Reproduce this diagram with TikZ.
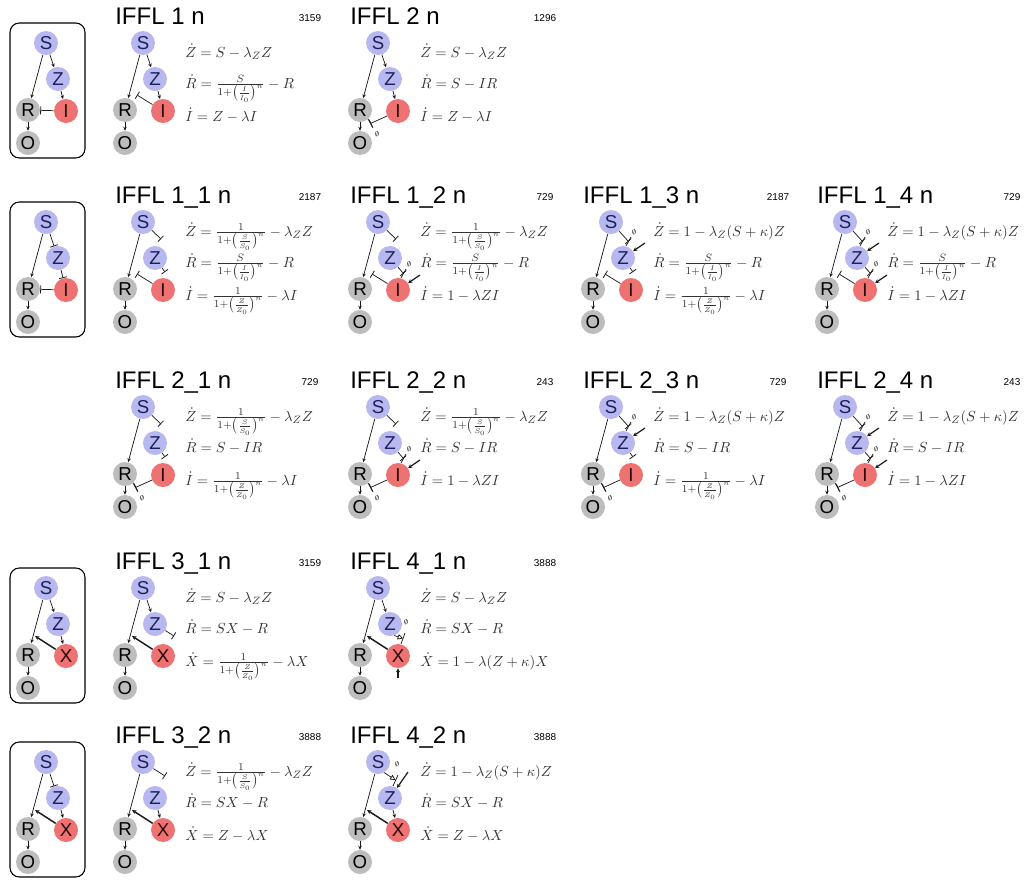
\documentclass[tikz,border=0pt]{standalone}
\usepackage{fontspec}
\setmainfont{Liberation Sans}
\usetikzlibrary{arrows.meta,calc}

\definecolor{sigfill}{HTML}{B8B8F0}
\definecolor{sigtext}{HTML}{1E1E5C}
\definecolor{repfill}{HTML}{BDBDBD}
\definecolor{modfill}{HTML}{EE7272}
\definecolor{modtext}{HTML}{2A0808}
\definecolor{lncol}{HTML}{1A1A1A}
\definecolor{eqcol}{HTML}{333333}

\tikzset{
  sp/.style={circle, minimum size=18pt, inner sep=0pt, font=\fontsize{14}{14}\selectfont},
  sig/.style={sp, fill=sigfill, text=sigtext},
  rsp/.style={sp, fill=repfill, text=black},
  msp/.style={sp, fill=modfill, text=modtext},
  ttl/.style={anchor=base west, inner sep=0pt, font=\fontsize{18}{18}\selectfont},
  cnt/.style={anchor=base, inner sep=0pt, font=\fontsize{7.5}{8}\selectfont},
  eqn/.style={anchor=base west, inner sep=0pt, text=eqcol, font=\fontsize{11}{12}\selectfont},
  nul/.style={inner sep=0pt, font=\fontsize{5.5}{5.5}\selectfont},
  act/.style={draw=lncol, line width=0.55pt, -{Stealth[length=3pt,width=2.6pt]}},
  inh/.style={draw=lncol, line width=0.55pt, -{Bar[width=6pt,line width=0.6pt]}},
  thk/.style={draw=lncol, line width=1.1pt, -{Stealth[length=3.4pt,width=3.2pt]}},
  prod/.style={draw=lncol, line width=0.9pt, -{Stealth[length=3pt,width=3pt]}},
  degl/.style={draw=lncol, line width=0.55pt},
  cat/.style={draw=lncol, line width=0.55pt, -{Triangle[open,length=4pt,width=4pt]}},
  frame/.style={draw=black, line width=0.8pt, rounded corners=7pt},
}

% species of one network; #1,#2 = origin (title left, row of S), #3 = third species
\newcommand{\species}[3]{%
  \node[sig] (S) at ({#1+28},{#2}) {S};
  \node[sig] (Z) at ({#1+40},{#2+36}) {Z};
  \node[rsp] (R) at ({#1+10},{#2+67}) {R};
  \node[msp] (M) at ({#1+48},{#2+68}) {#3};
  \node[rsp] (O) at ({#1+10},{#2+100}) {O};
  \draw[act] (S) -- (R);
  \draw[act] (R) -- (O);
}
% title, count and the three rate equations
\newcommand{\header}[7]{%
  \node[ttl] (T) at ({#1},{#2-19}) {#3};
  \node[cnt] (N) at ({#1+195},{#2-22}) {#4};
  \node[eqn] (E1) at ({#1+70},{#2+14}) {$#5$};
  \node[eqn] (E2) at ({#1+70},{#2+45}) {$#6$};
  \node[eqn] (E3) at ({#1+70},{#2+78}) {$#7$};
}
% rate equations
\newcommand{\eZa}{\dot Z = S-\lambda_Z Z}
\newcommand{\eZh}{\dot Z = \frac{1}{1+\left(\frac{S}{S_0}\right)^n}-\lambda_Z Z}
\newcommand{\eZd}{\dot Z = 1-\lambda_Z(S+\kappa)Z}
\newcommand{\eRh}{\dot R = \frac{S}{1+\left(\frac{I}{I_0}\right)^n}-R}
\newcommand{\eRd}{\dot R = S-IR}
\newcommand{\eRx}{\dot R = SX-R}
\newcommand{\eIa}{\dot I = Z-\lambda I}
\newcommand{\eIh}{\dot I = \frac{1}{1+\left(\frac{Z}{Z_0}\right)^n}-\lambda I}
\newcommand{\eId}{\dot I = 1-\lambda ZI}
\newcommand{\eXh}{\dot X = \frac{1}{1+\left(\frac{Z}{Z_0}\right)^n}-\lambda X}
\newcommand{\eXd}{\dot X = 1-\lambda(Z+\kappa)X}
\newcommand{\eXa}{\dot X = Z-\lambda X}
% interactions
\newcommand{\sza}{\draw[act] (S) -- (Z);}
\newcommand{\szi}{\coordinate (SZe) at ($(Z)+(6,-19)$); \draw[inh] (S) -- (SZe);}
\newcommand{\zma}{\draw[act] (Z) -- (M);}
\newcommand{\zmi}{\coordinate (ZMe) at ($(M)+(2,-18)$); \draw[inh] (Z) -- (ZMe);}
\newcommand{\mri}{\coordinate (MRe) at ($(R)+(12,-15)$); \draw[inh] (M) -- (MRe);}
\newcommand{\xra}{\coordinate (XRe) at ($(R)+(7,-19)$); \draw[thk] (M) -- (XRe);}
% degradation of #1 catalysed by #2 (edge style #3), plus constant production
\newcommand{\degUR}[3]{%
  \coordinate (#1a) at ($(#1)+(3,-12)$);
  \coordinate (#1b) at ($(#1)+(8,-21)$);
  \coordinate (#1c) at ($(#1)+(5.5,-16.5)$);
  \coordinate (#1p) at ($(#1)+(22,-15)$);
  \node[nul] (#1n) at ($(#1)+(11,-26)$) {$\emptyset$};
  \draw[degl] (#1a) -- (#1b);
  \draw[#3] (#2) -- (#1c);
  \draw[prod] (#1p) -- (#1);
}
% degradation of R catalysed by I
\newcommand{\degR}{%
  \coordinate (Ra) at ($(R)+(8,9)$);
  \coordinate (Rb) at ($(R)+(13,18)$);
  \coordinate (Rc) at ($(R)+(10.5,13.5)$);
  \node[nul] (Rn) at ($(R)+(17,24)$) {$\emptyset$};
  \draw[degl] (Ra) -- (Rb);
  \draw[inh] (M) -- (Rc);
}

\begin{document}
\begin{tikzpicture}[x=0.75pt, y=-0.75pt]
\useasboundingbox (0,0) rectangle (1026,886);

% ---------- row 1 ----------
\begin{scope}[name prefix=b1-]
  \draw[frame] (10,23) rectangle (85,158);
  \species{18}{43}{I}
  \sza \zma \draw[inh] (M) -- (R);
\end{scope}
\begin{scope}[name prefix=p1-]
  \header{115}{43}{IFFL 1 n}{3159}{\eZa}{\eRh}{\eIa}
  \species{115}{43}{I}
  \sza \zma \mri
\end{scope}
\begin{scope}[name prefix=p2-]
  \header{350}{43}{IFFL 2 n}{1296}{\eZa}{\eRd}{\eIa}
  \species{350}{43}{I}
  \sza \zma \degR
\end{scope}

% ---------- row 2 ----------
\begin{scope}[name prefix=b2-]
  \draw[frame] (10,202) rectangle (85,337);
  \species{18}{222}{I}
  \draw[inh] (S) -- (Z); \draw[inh] (Z) -- (M); \draw[inh] (M) -- (R);
\end{scope}
\begin{scope}[name prefix=p3-]
  \header{115}{222}{IFFL 1\_1 n}{2187}{\eZh}{\eRh}{\eIh}
  \species{115}{222}{I}
  \szi \zmi \mri
\end{scope}
\begin{scope}[name prefix=p4-]
  \header{350}{222}{IFFL 1\_2 n}{729}{\eZh}{\eRh}{\eId}
  \species{350}{222}{I}
  \szi \degUR{M}{Z}{inh} \mri
\end{scope}
\begin{scope}[name prefix=p5-]
  \header{583}{222}{IFFL 1\_3 n}{2187}{\eZd}{\eRh}{\eIh}
  \species{583}{222}{I}
  \degUR{Z}{S}{inh} \zmi \mri
\end{scope}
\begin{scope}[name prefix=p6-]
  \header{817}{222}{IFFL 1\_4 n}{729}{\eZd}{\eRh}{\eId}
  \species{817}{222}{I}
  \degUR{Z}{S}{inh} \degUR{M}{Z}{inh} \mri
\end{scope}

% ---------- row 3 ----------
\begin{scope}[name prefix=p7-]
  \header{115}{407}{IFFL 2\_1 n}{729}{\eZh}{\eRd}{\eIh}
  \species{115}{407}{I}
  \szi \zmi \degR
\end{scope}
\begin{scope}[name prefix=p8-]
  \header{350}{407}{IFFL 2\_2 n}{243}{\eZh}{\eRd}{\eId}
  \species{350}{407}{I}
  \szi \degUR{M}{Z}{inh} \degR
\end{scope}
\begin{scope}[name prefix=p9-]
  \header{583}{407}{IFFL 2\_3 n}{729}{\eZd}{\eRd}{\eIh}
  \species{583}{407}{I}
  \degUR{Z}{S}{inh} \zmi \degR
\end{scope}
\begin{scope}[name prefix=p10-]
  \header{817}{407}{IFFL 2\_4 n}{243}{\eZd}{\eRd}{\eId}
  \species{817}{407}{I}
  \degUR{Z}{S}{inh} \degUR{M}{Z}{inh} \degR
\end{scope}

% ---------- row 4 ----------
\begin{scope}[name prefix=b4-]
  \draw[frame] (10,568) rectangle (85,703);
  \species{18}{588}{X}
  \sza \zma \xra
\end{scope}
\begin{scope}[name prefix=p11-]
  \header{115}{588}{IFFL 3\_1 n}{3159}{\eZa}{\eRx}{\eXh}
  \species{115}{588}{X}
  \sza \xra
  \coordinate (ZXe) at ($(M)+(11,-20)$); \draw[inh] (Z) -- (ZXe);
\end{scope}
\begin{scope}[name prefix=p12-]
  \header{350}{588}{IFFL 4\_1 n}{3888}{\eZa}{\eRx}{\eXd}
  \species{350}{588}{X}
  \sza \xra
  \coordinate (Ma) at ($(M)+(3,-12)$);
  \coordinate (Mb) at ($(M)+(7,-23)$);
  \coordinate (Mc) at ($(M)+(5,-17.5)$);
  \coordinate (Mp) at ($(M)+(0,22)$);
  \node[nul] (Mn) at ($(Z)+(16,-2)$) {$\emptyset$};
  \draw[degl] (Ma) -- (Mb);
  \draw[cat] (Z.-70) -- (Mc);
  \draw[prod] (Mp) -- (M);
\end{scope}

% ---------- row 5 ----------
\begin{scope}[name prefix=b5-]
  \draw[frame] (10,742) rectangle (85,877);
  \species{18}{762}{X}
  \draw[inh] (S) -- (Z); \zma \xra
\end{scope}
\begin{scope}[name prefix=p13-]
  \header{115}{762}{IFFL 3\_2 n}{3888}{\eZh}{\eRx}{\eXa}
  \species{115}{762}{X}
  \zma \xra
  \coordinate (SZe) at ($(Z)+(10,-22)$); \draw[inh] (S) -- (SZe);
\end{scope}
\begin{scope}[name prefix=p14-]
  \header{350}{762}{IFFL 4\_2 n}{3888}{\eZd}{\eRx}{\eXa}
  \species{350}{762}{X}
  \zma \xra
  \coordinate (Za) at ($(Z)+(3,-12)$);
  \coordinate (Zb) at ($(Z)+(8,-23)$);
  \coordinate (Zc) at ($(Z)+(5.5,-18)$);
  \coordinate (Zp) at ($(Z)+(18,-26)$);
  \node[nul] (Zn) at ($(Z)+(7,-34)$) {$\emptyset$};
  \draw[degl] (Za) -- (Zb);
  \draw[cat] (S.-60) -- (Zc);
  \draw[prod] (Zp) -- (Z);
\end{scope}
\end{tikzpicture}
\end{document}
